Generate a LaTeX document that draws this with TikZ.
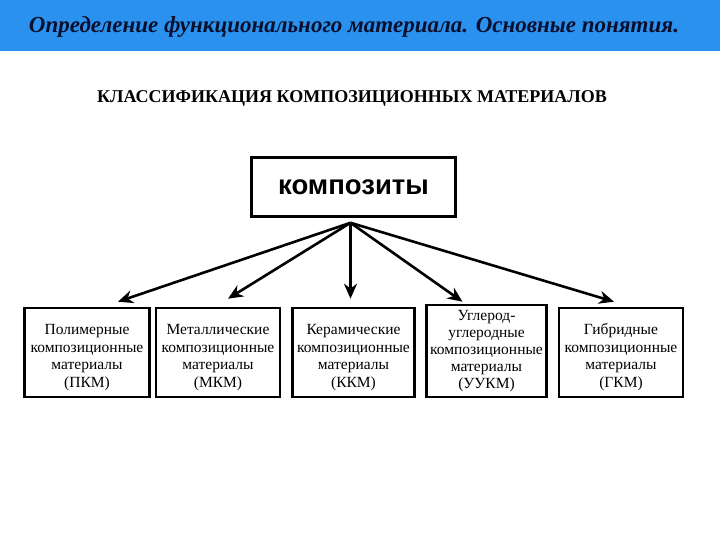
\documentclass[tikz,border=0pt]{standalone}
\usepackage{fontspec}
\setmainfont{Liberation Serif}
\newfontfamily\boxsans{Liberation Sans}
\usepackage{xcolor}
\usetikzlibrary{arrows.meta,calc}
\definecolor{banner}{RGB}{42,146,238}
\definecolor{titleink}{RGB}{10,15,45}
\newcommand{\lowstrut}{\rule{0pt}{20pt}}
\tikzset{
    classbox/.style={draw, line width=2.6pt, minimum width=124pt, minimum height=89pt,
        align=center, inner sep=0pt, font=\fontsize{15.5}{17.5}\selectfont},
    branch/.style={line width=2.6pt, -{Stealth[length=15pt,width=13pt]}}
}
\begin{document}
\begin{tikzpicture}[x=1pt,y=-1pt]
    \useasboundingbox (0,0) rectangle (720,540);
    \fill[banner] (0,0) rectangle (720,51);
    \node (title) at (354,27) {\color{titleink}\fontsize{23}{28}\selectfont\bfseries\itshape Определение функционального материала. Основные понятия.};
    \node (heading) at (352,98) {\fontsize{18}{21}\selectfont\bfseries КЛАССИФИКАЦИЯ КОМПОЗИЦИОННЫХ МАТЕРИАЛОВ};
    \node[draw, line width=2.6pt, minimum width=204pt, minimum height=59pt] (komp) at (353.5,187)
        {\boxsans\bfseries\fontsize{27.5}{31}\selectfont композиты};
    % нижний ряд
    \node[classbox, minimum width=125pt] (pkm) at (87,352.5) {\lowstrut Полимерные\\композиционные\\материалы\\(ПКМ)};
    \node[classbox] (mkm) at (218,352.5) {\lowstrut Металлические\\композиционные\\материалы\\(МКМ)};
    \node[classbox, minimum width=122pt] (kkm) at (353.5,352.5) {\lowstrut Керамические\\композиционные\\материалы\\(ККМ)};
    \node[classbox, minimum width=120pt, minimum height=92pt, font=\fontsize{15.5}{17}\selectfont] (uukm) at (486.5,351)
        {Углерод-\\углеродные\\композиционные\\материалы\\(УУКМ)};
    \node[classbox] (gkm) at (621,352.5) {\lowstrut Гибридные\\композиционные\\материалы\\(ГКМ)};
    \coordinate (hub) at ([xshift=-3pt,yshift=-5pt]komp.south);
    \draw[branch] (hub) -- ([xshift=31pt,yshift=5pt]pkm.north);
    \draw[branch] (hub) -- ([xshift=10pt,yshift=8pt]mkm.north);
    \draw[branch] (hub) -- ([xshift=-3pt,yshift=8pt]kkm.north);
    \draw[branch] (hub) -- ([xshift=-24pt,yshift=2pt]uukm.north);
    \draw[branch] (hub) -- ([xshift=-7pt,yshift=5pt]gkm.north);
\end{tikzpicture}
\end{document}
